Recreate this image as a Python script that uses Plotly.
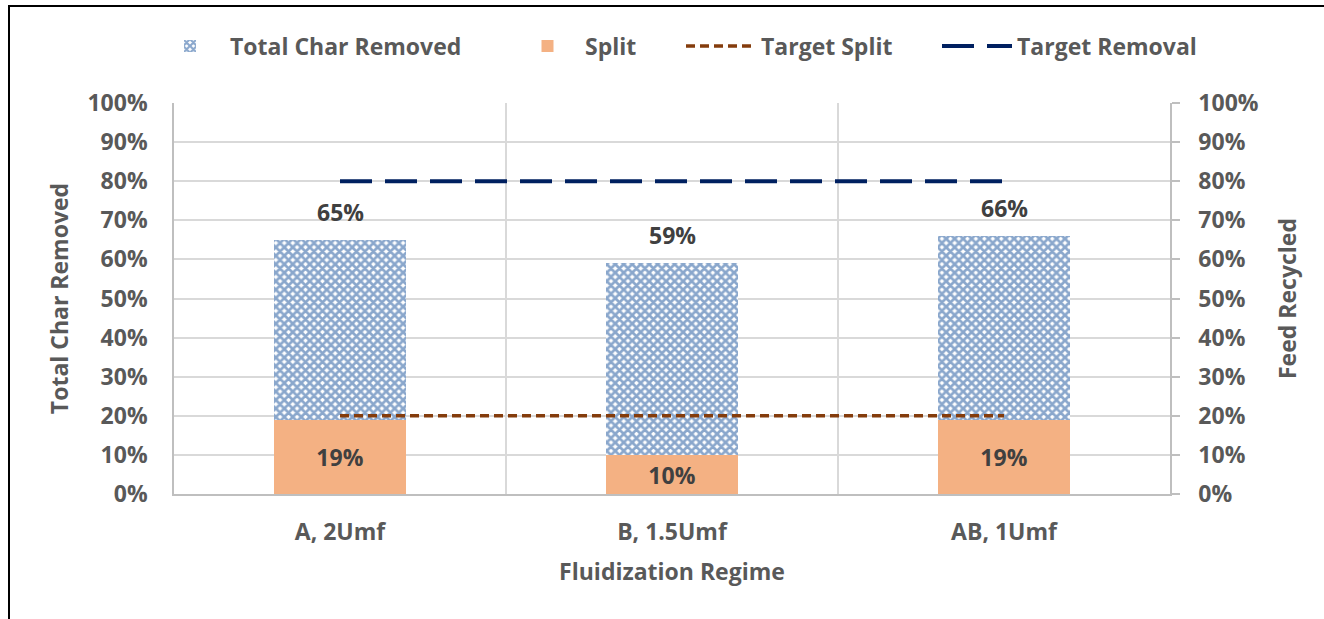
import plotly.graph_objects as go

# Chart data
regimes = ["A, 2Umf", "B, 1.5Umf", "AB, 1Umf"]
total_char_removed = [0.65, 0.59, 0.66]
split = [0.19, 0.10, 0.19]
target_split = [0.20, 0.20, 0.20]
target_removal = [0.80, 0.80, 0.80]
y_tick_vals = [i / 10 for i in range(11)]
y_tick_text = [f"{i * 10}%" for i in range(11)]

FONT = "Open Sans"
FS = 23
TXT = "#595959"
GRID = "#D9D9D9"
AXIS = "#BFBFBF"

# Plot area in pixels (used to place legends in paper units)
PL, PW, PB, PH = 174, 996, 494, 391


def px_x(px):
    return (px - PL) / PW


def px_y(py):
    return (PB - py) / PH


xpos = list(range(len(regimes)))

fig = go.Figure()

fig.add_trace(go.Bar(
    x=xpos, y=total_char_removed, name="Total Char Removed", width=0.4,
    marker=dict(color="white", line=dict(width=0),
                pattern=dict(shape="x", size=6, solidity=0.7,
                             fgcolor="#15509A", bgcolor="white")),
    legend="legend", hoverinfo="skip",
))

fig.add_trace(go.Bar(
    x=xpos, y=split, name="Split", width=0.4, yaxis="y2",
    marker=dict(color="#F4B183", line=dict(width=0)),
    text=[f"{round(v * 100)}%" for v in split],
    textposition="inside", insidetextanchor="middle",
    textfont=dict(family=FONT, size=FS, color="#404040", weight="bold"),
    legend="legend2", hoverinfo="skip",
))

fig.add_trace(go.Scatter(
    x=xpos, y=target_split, name="Target Split", mode="lines", yaxis="y2",
    line=dict(color="#843C0C", width=3.5, dash="9px,5px"),
    legend="legend3", hoverinfo="skip",
))

fig.add_trace(go.Scatter(
    x=xpos, y=target_removal, name="Target Removal", mode="lines",
    line=dict(color="#002060", width=4, dash="32px,13px"),
    legend="legend4", hoverinfo="skip",
))

# Value labels above the total bars
annotations = [
    dict(x=x, y=v, xref="x", yref="y", text=f"{round(v * 100)}%",
         showarrow=False, yshift=28,
         font=dict(family=FONT, size=FS, color="#404040", weight="bold"))
    for x, v in zip(xpos, total_char_removed)
]

# Outer frame of the figure
shapes = [dict(type="rect", xref="paper", yref="paper",
               x0=px_x(9), x1=1.4, y0=-0.6, y1=px_y(6),
               line=dict(color="black", width=2), fillcolor="rgba(0,0,0,0)",
               layer="below")]

yaxis_common = dict(
    range=[0, 1], tickvals=y_tick_vals, ticktext=y_tick_text,
    tickfont=dict(family=FONT, size=FS, color=TXT, weight="bold"),
    showline=True, linecolor=AXIS, linewidth=1.5, zeroline=False,
)


def legend_at(px, itemwidth):
    return dict(orientation="h", x=px_x(px), xanchor="left",
                y=px_y(46), yanchor="middle", bgcolor="rgba(0,0,0,0)",
                font=dict(family=FONT, size=FS, color=TXT, weight="bold"),
                itemwidth=itemwidth)


fig.update_layout(
    width=1324, height=619,
    margin=dict(l=PL, r=1324 - PL - PW, t=PB - PH, b=619 - PB, autoexpand=False),
    paper_bgcolor="white", plot_bgcolor="white",
    barmode="overlay",
    bargap=0,
    showlegend=True,
    legend=legend_at(150, 70),
    legend2=legend_at(510, 65),
    legend3=legend_at(681, 70),
    legend4=legend_at(937, 70),
    xaxis=dict(
        range=[-0.5, 2.5], tickvals=xpos, ticktext=regimes,
        tickfont=dict(family=FONT, size=FS, color=TXT, weight="bold"),
        showgrid=False, ticks="", ticklabelstandoff=17,
        showline=True, linecolor=AXIS, linewidth=1.5, zeroline=False,
        minor=dict(tickvals=[0.5, 1.5], showgrid=True, gridcolor=GRID,
                   gridwidth=1.5, ticks=""),
        title=dict(text="Fluidization Regime", standoff=18,
                   font=dict(family=FONT, size=FS, color=TXT, weight="bold")),
    ),
    yaxis=dict(
        **yaxis_common,
        showgrid=True, gridcolor=GRID, gridwidth=1.5,
        ticks="", ticklabelstandoff=20,
        title=dict(text="Total Char Removed", standoff=12,
                   font=dict(family=FONT, size=FS, color=TXT, weight="bold")),
    ),
    yaxis2=dict(
        **yaxis_common,
        overlaying="y", side="right", showgrid=False,
        ticks="outside", ticklen=8, tickcolor=AXIS, tickwidth=1.5,
        ticklabelstandoff=14,
        title=dict(text="Feed Recycled", standoff=22,
                   font=dict(family=FONT, size=FS, color=TXT, weight="bold")),
    ),
    annotations=annotations,
    shapes=shapes,
)

fig.write_html("out.html")
